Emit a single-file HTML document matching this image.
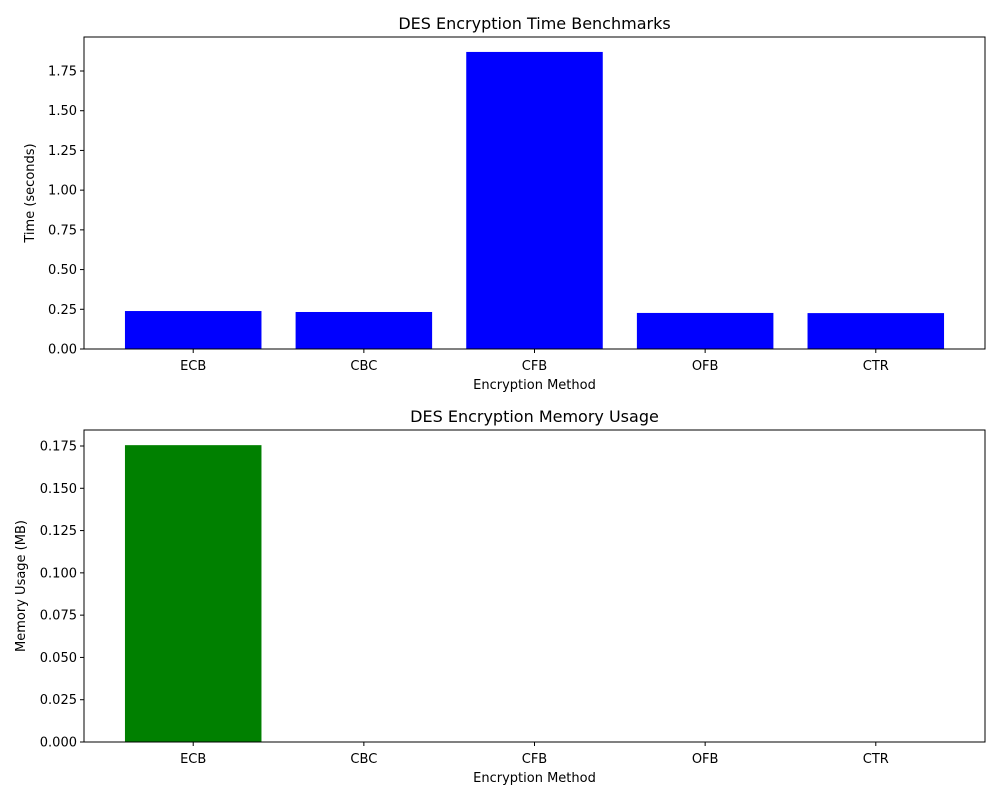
<!DOCTYPE html>
<html><head><meta charset="utf-8"><style>
body{margin:0;background:#fff;font-family:"Liberation Sans","DejaVu Sans",sans-serif;}
text{font-family:"DejaVu Sans","Liberation Sans",sans-serif;fill:#000;}
</style></head><body>
<svg id="chart" width="1000" height="800" viewBox="0 0 1000 800"></svg>
<script>
const categories = ["ECB","CBC","CFB","OFB","CTR"];
const timeValues = [0.239, 0.233, 1.87, 0.227, 0.226];
const memoryValues = [0.1755, 0, 0, 0, 0];
const timeTicks = ["0.00","0.25","0.50","0.75","1.00","1.25","1.50","1.75"];
const memTicks = ["0.000","0.025","0.050","0.075","0.100","0.125","0.150","0.175"];

const svg = document.getElementById('chart');
const NS = "http://www.w3.org/2000/svg";
function mk(tag, attrs, parent){const e=document.createElementNS(NS,tag);for(const k in attrs)e.setAttribute(k,attrs[k]);(parent||svg).appendChild(e);return e;}

function panel(cfg){
  const g = mk('g',{});
  
  
  const L=84,R=985,T=cfg.top,B=cfg.bottom;
  const xmin=-0.64,xmax=4.64;
  const x = v => L + (v - xmin)/(xmax - xmin)*(R-L);
  const y = v => B - v/cfg.ymax*(B-T);
  categories.forEach((c,i)=>{
    const v = cfg.values[i];
    const r = mk('rect',{x:x(i-0.4),y:y(v),width:x(i+0.4)-x(i-0.4),height:B-y(v),fill:cfg.color},g);
    
    
    mk('line',{x1:x(i),x2:x(i),y1:B,y2:B+4,stroke:'#000','stroke-width':1},g);
    const t = mk('text',{x:x(i),y:B+21,'text-anchor':'middle','font-size':13},g);
    t.textContent = c;
    
    
  });
  cfg.ticks.forEach(s=>{
    const v=parseFloat(s), yy=y(v);
    mk('line',{x1:L-4,x2:L,y1:yy,y2:yy,stroke:'#000','stroke-width':1},g);
    const t = mk('text',{x:L-7,y:yy+4.5,'text-anchor':'end','font-size':13},g);
    t.textContent = s;
    
    
  });
  mk('rect',{x:L,y:T,width:R-L,height:B-T,fill:'none',stroke:'#000','stroke-width':1},g);
  const tt = mk('text',{x:(L+R)/2,y:T-8,'text-anchor':'middle','font-size':16},g);
  tt.textContent = cfg.title;
  
  
  const xl = mk('text',{x:(L+R)/2,y:B+40,'text-anchor':'middle','font-size':13},g);
  xl.textContent = "Encryption Method";
  
  
  const cy=(T+B)/2;
  const yl = mk('text',{x:cfg.ylx,y:cy,'text-anchor':'middle','font-size':13,transform:`rotate(-90 ${cfg.ylx} ${cy})`},g);
  yl.textContent = cfg.ylabel;
  
  
}
panel({name:'time-chart',top:37,bottom:349,ymax:1.75*312/278,values:timeValues,ticks:timeTicks,color:'#0000ff',title:'DES Encryption Time Benchmarks',ylabel:'Time (seconds)',ylx:34});
panel({name:'memory-chart',top:430,bottom:742,ymax:0.175*312/296,values:memoryValues,ticks:memTicks,color:'#008000',title:'DES Encryption Memory Usage',ylabel:'Memory Usage (MB)',ylx:25});
</script>
</body></html>
